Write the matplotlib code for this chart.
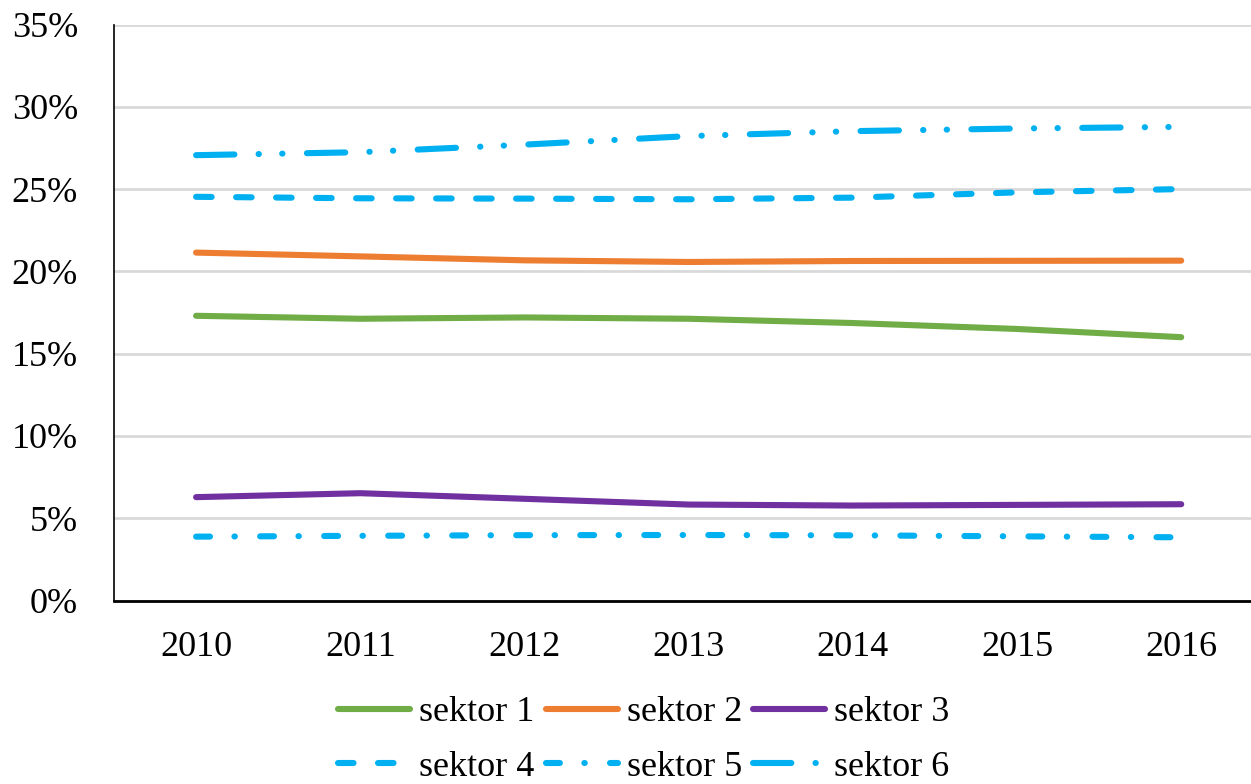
import matplotlib
matplotlib.use("Agg")
import matplotlib.pyplot as plt
from matplotlib.ticker import FuncFormatter

years = ["2010", "2011", "2012", "2013", "2014", "2015", "2016"]
sektor_1 = [17.3, 17.12, 17.2, 17.12, 16.86, 16.5, 16.0]
sektor_2 = [21.14, 20.91, 20.67, 20.57, 20.63, 20.64, 20.65]
sektor_3 = [6.28, 6.52, 6.18, 5.83, 5.77, 5.81, 5.85]
sektor_4 = [24.53, 24.44, 24.42, 24.38, 24.48, 24.8, 25.0]
sektor_5 = [3.88, 3.93, 3.97, 3.98, 3.96, 3.9, 3.84]
sektor_6 = [27.06, 27.24, 27.7, 28.22, 28.52, 28.68, 28.78]
labels = ["sektor 1", "sektor 2", "sektor 3", "sektor 4", "sektor 5", "sektor 6"]

plt.rcParams["font.family"] = ["Liberation Serif", "DejaVu Serif"]
plt.rcParams["lines.scale_dashes"] = False

blue = "#00B0F0"
styles = [
    dict(color="#70AD47", linestyle="-"),
    dict(color="#ED7D31", linestyle="-"),
    dict(color="#7030A0", linestyle="-"),
    dict(color=blue, linestyle=(0, (11.2, 17.6))),
    dict(color=blue, linestyle=(0, (10.0, 17.6, 0.3, 18.2))),
    dict(color=blue, linestyle=(0, (27.6, 17.4, 0.2, 16.8, 0.2, 17.6))),
]

fig = plt.figure(figsize=(12.51, 7.84), dpi=100)
ax = fig.add_axes([114 / 1251, 1 - 600.5 / 784, 1 - 114 / 1251, 576 / 784])

x = range(len(years))
series = [sektor_1, sektor_2, sektor_3, sektor_4, sektor_5, sektor_6]
handles = []
for vals, lab, st in zip(series, labels, styles):
    (ln,) = ax.plot(x, vals, lw=4.4, label=lab, solid_capstyle="round",
                    dash_capstyle="round", **st)
    handles.append(ln)

ax.set_ylim(0, 35)
ax.set_xlim(-0.5, 6.425)
ax.set_yticks(range(0, 36, 5))
ax.yaxis.set_major_formatter(FuncFormatter(lambda v, p: f"{v:.0f}%"))
ax.set_xticks(list(x))
ax.set_xticklabels(years)
ax.tick_params(axis="both", length=0, labelsize=26)
ax.tick_params(axis="y", pad=26)
ax.tick_params(axis="x", pad=22)
ax.grid(axis="y", color="#D9D9D9", lw=2)
ax.set_axisbelow(True)
for s in ("top", "right"):
    ax.spines[s].set_visible(False)
ax.spines["left"].set_color("#000000")
ax.spines["left"].set_linewidth(1.2)
ax.spines["bottom"].set_color("#000000")
ax.spines["bottom"].set_linewidth(2)

# legend fills column by column, so interleave to get row order
order = [0, 3, 1, 4, 2, 5]
fig.legend(handles=[handles[i] for i in order], loc="center", ncol=3,
           frameon=False, bbox_to_anchor=(644 / 1251, 1 - 740 / 784),
           fontsize=26, handlelength=2.0, handletextpad=0.25,
           columnspacing=0.3, labelspacing=0.6)

fig.savefig("out.png", dpi=100)
